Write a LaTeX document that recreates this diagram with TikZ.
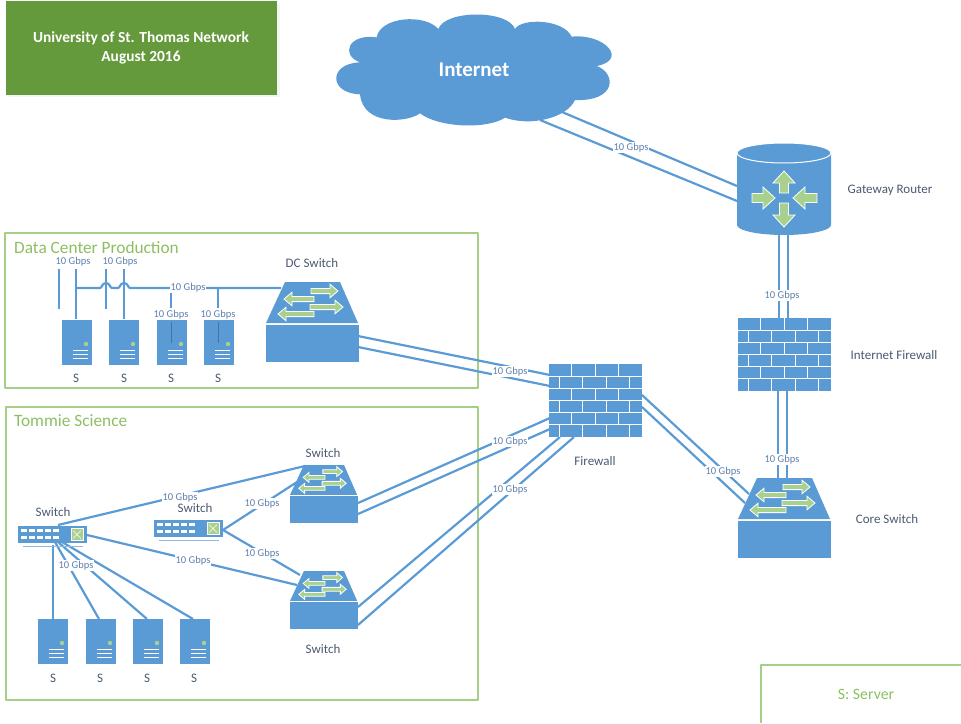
\documentclass[tikz,border=0pt]{standalone}
\usepackage{fontspec}
\setmainfont{Carlito}
\definecolor{netblue}{HTML}{5B9BD5}
\definecolor{leaf}{HTML}{A9D18E}
\definecolor{boxgreen}{HTML}{A5CF86}
\definecolor{titlegreen}{HTML}{8CBF62}
\definecolor{deepgreen}{HTML}{659A3C}
\definecolor{inkgray}{HTML}{4A5A70}
\definecolor{ratecol}{HTML}{5F7FAE}
\newcommand{\fatarrow}[3]{%
  \pgfmathsetmacro{\hb}{#3>#1?#3-8:#3+8}%
  \draw[white,line width=.8pt,fill=leaf,line join=miter]
    (#1,#2-2.6)--(\hb,#2-2.6)--(\hb,#2-6.8)--(#3,#2)--(\hb,#2+6.8)--(\hb,#2+2.6)--(#1,#2+2.6)--cycle;}
\newcommand{\fatarrowv}[3]{%
  \pgfmathsetmacro{\hb}{#3>#2?#3-12:#3+12}%
  \draw[white,line width=.8pt,fill=leaf,line join=miter]
    (#1-4.5,#2)--(#1-4.5,\hb)--(#1-11,\hb)--(#1,#3)--(#1+11,\hb)--(#1+4.5,\hb)--(#1+4.5,#2)--cycle;}
\newcommand{\fatarrowh}[3]{%
  \pgfmathsetmacro{\hb}{#3>#1?#3-12:#3+12}%
  \draw[white,line width=.8pt,fill=leaf,line join=miter]
    (#1,#2-4.5)--(\hb,#2-4.5)--(\hb,#2-11)--(#3,#2)--(\hb,#2+11)--(\hb,#2+4.5)--(#1,#2+4.5)--cycle;}
\tikzset{
  x=1pt,y=-1pt,
  link/.style={draw=netblue,line width=2.2pt},
  rate/.style={fill=white,inner sep=.8pt,yshift=-.6pt,text=ratecol,font=\fontsize{10.5}{11}\selectfont},
  caption/.style={inner sep=0pt,text=inkgray,font=\fontsize{13}{14}\selectfont},
  region/.style={draw=boxgreen,line width=1.5pt,line join=round},
  regiontitle/.style={inner sep=0pt,anchor=west,text=titlegreen,font=\fontsize{17.3}{18}\selectfont},
  bigswitch/.pic={
    \fill[netblue] (19,0)--(74,0)--(92,41)--(0,41)--cycle;
    \fill[netblue] (0,43)--(93,43)--(93,80)--(0,80)--cycle;
    \fatarrow{45}{9}{72}\fatarrow{48}{17}{18}\fatarrow{44}{25}{77}\fatarrow{48}{32}{12}
  },
  brickwall/.pic={
    \fill[netblue] (0,0) rectangle (93,73);
    \foreach \r in {1,...,5}{\draw[white,line width=.9pt] (0,\r*12.17)--(93,\r*12.17);}
    \foreach \r in {0,2,4}{\foreach \c in {22,46,69}{\draw[white,line width=.9pt] (\c,\r*12.17)--(\c,\r*12.17+12.17);}}
    \foreach \r in {1,3,5}{\foreach \c in {10,33,57,80}{\draw[white,line width=.9pt] (\c,\r*12.17)--(\c,\r*12.17+12.17);}}
  },
  serverbox/.pic={
    \fill[netblue] (0,0) rectangle (30,45);
    \fill[leaf] (24,24) circle (2.2);
    \foreach \v in {30,34,38}{\draw[white,line width=.8pt] (11,\v)--(26,\v);}
  },
  smallswitch/.pic={
    \fill[netblue] (0,0) rectangle (69,17);
    \foreach \c in {3,11,19,27,35}{\foreach \v in {3,10}{\fill[white] (\c,\v) rectangle ++(5.5,3);}}
    \draw[white,line width=.7pt,fill=leaf] (53,2.5) rectangle (65,14.5);
    \draw[white,line width=.5pt] (55,4.5)--(63,12.5) (55,12.5)--(63,4.5);
    \draw[netblue!70!white,line width=1.2pt] (5,20.5)--(65,20.5);
  },
}
\begin{document}
\begin{tikzpicture}
\useasboundingbox (0,0) rectangle (961,723);
% title
\fill[black!4!white] (8,4) rectangle (280,97);
\node[draw=none,fill=deepgreen,minimum width=271pt,minimum height=94pt,inner sep=0pt] (title) at (141,47.5) {};
\node[inner sep=0pt,text=white,align=center,font=\fontsize{15.4}{19}\selectfont\bfseries] (titletext) at (141,47.5) {University of St. Thomas Network\\August 2016};
% regions
\node[region,minimum width=473pt,minimum height=155pt,inner sep=0pt] (dcregion) at (241.5,310.5) {};
\node[region,minimum width=472pt,minimum height=293pt,inner sep=0pt] (sciregion) at (242,553.5) {};
\node[regiontitle] (dctitle) at (14,248) {Data Center Production};
\node[regiontitle] (scititle) at (14,421) {Tommie Science};
\coordinate (legA) at (761,723);\coordinate (legB) at (761,665);\coordinate (legC) at (961,665);
\draw[region] (legA)--(legB)--(legC);
\node[inner sep=0pt,text=titlegreen,font=\fontsize{15.8}{17}\selectfont] (legend) at (866,694) {S: Server};
% cloud
\begin{scope}[shift={(330,5)},scale=0.33333]
\fill[netblue] (325,72) .. controls (345,14) and (535,14) .. (555,72)
 .. controls (575,38) and (700,42) .. (725,95)
 .. controls (825,85) and (895,165) .. (800,183)
 .. controls (860,205) and (860,290) .. (735,285)
 .. controls (710,340) and (600,365) .. (525,338)
 .. controls (475,372) and (330,370) .. (270,325)
 .. controls (235,352) and (100,365) .. (90,268)
 .. controls (-5,265) and (-5,175) .. (90,172)
 .. controls (30,150) and (55,85) .. (140,97)
 .. controls (150,35) and (285,25) .. (325,72) -- cycle;
\end{scope}
\node[inner sep=0pt,text=white,font=\fontsize{21}{23}\selectfont\bfseries] (internet) at (474,70) {Internet};
% connector end points
\coordinate (cloudA) at (562,112);\coordinate (cloudB) at (540,120);
\coordinate (gwA) at (737,186);\coordinate (gwB) at (737,201);
\coordinate (gwC) at (779,232);\coordinate (gwD) at (788,232);
\coordinate (ifwA) at (779,318);\coordinate (ifwB) at (788,318);
\coordinate (ifwC) at (778,390);\coordinate (ifwD) at (787,390);
\coordinate (coreA) at (778,479);\coordinate (coreB) at (787,479);
\coordinate (fwA) at (642,395);\coordinate (fwB) at (642,407);
\coordinate (coreC) at (749,494);\coordinate (coreD) at (745,503);
\coordinate (dcsA) at (358,336);\coordinate (dcsB) at (358,347);
\coordinate (fwC) at (550,375);\coordinate (fwD) at (550,386);
\coordinate (swtA) at (358,503);\coordinate (swtB) at (358,514);
\coordinate (fwE) at (550,418);\coordinate (fwF) at (550,429);
\coordinate (swbA) at (358,607);\coordinate (swbB) at (358,625);
\coordinate (fwG) at (560,437);\coordinate (fwH) at (574,437);
\coordinate (lsA) at (58,525);\coordinate (swtC) at (305,466);
\coordinate (lsB) at (87,535);\coordinate (swbC) at (297,585);
\coordinate (rsA) at (223,530);\coordinate (swtD) at (297,482);\coordinate (swbD) at (300,575);
\coordinate (lsC) at (53,545);\coordinate (lsD) at (55,542);\coordinate (lsE) at (58,542);\coordinate (lsF) at (62,542);
\coordinate (tsA) at (53,619);\coordinate (tsB) at (99,619);\coordinate (tsC) at (147,619);\coordinate (tsD) at (193,619);
% connectors
\draw[link] (cloudA)--(gwA);\draw[link] (cloudB)--(gwB);
\draw[link] (gwC)--(ifwA);\draw[link] (gwD)--(ifwB);
\draw[link] (ifwC)--(coreA);\draw[link] (ifwD)--(coreB);
\draw[link] (fwA)--(coreC);\draw[link] (fwB)--(coreD);
\draw[link] (dcsA)--(fwC);\draw[link] (dcsB)--(fwD);
\draw[link] (swtA)--(fwE);\draw[link] (swtB)--(fwF);
\draw[link] (swbA)--(fwG);\draw[link] (swbB)--(fwH);
\draw[link] (lsA)--(swtC);\draw[link] (lsB)--(swbC);
\draw[link] (rsA)--(swtD);\draw[link] (rsA)--(swbD);
\draw[link] (lsC)--(tsA);\draw[link] (lsD)--(tsB);\draw[link] (lsE)--(tsC);\draw[link] (lsF)--(tsD);
% data-centre bus
\coordinate (busL) at (76,288);\coordinate (busR) at (281,288);
\coordinate (vA1) at (59,269);\coordinate (vA2) at (59,309);
\coordinate (vB1) at (76,269);\coordinate (vB2) at (76,319);
\coordinate (vC1) at (106,269);\coordinate (vC2) at (106,309);
\coordinate (vD1) at (124,269);\coordinate (vD2) at (124,319);
\coordinate (vE1) at (171,288);\coordinate (vE2) at (171,308);
\coordinate (vF1) at (218,288);\coordinate (vF2) at (218,308);
\draw[link] (vA1)--(vA2);\draw[link] (vB1)--(vB2);\draw[link] (vC1)--(vC2);\draw[link] (vD1)--(vD2);
\draw[link] (vE1)--(vE2);\draw[link] (vF1)--(vF2);
\draw[link] (busL)--(100,288) .. controls (102,288) and (102,283) .. (106,283) .. controls (110,283) and (110,288) .. (112,288)
 --(118,288) .. controls (120,288) and (120,283) .. (124,283) .. controls (128,283) and (128,288) .. (130,288)--(busR);
% icons
\fill[netblue] (737,153) -- (737,225) arc[start angle=180,end angle=0,x radius=47,y radius=10] -- (831,153) -- cycle;
\draw[white,line width=1pt,fill=netblue] (784,153) ellipse[x radius=47,y radius=10];
\fatarrowv{784}{193}{171}\fatarrowv{784}{203}{227}\fatarrowh{752}{198}{775}\fatarrowh{817}{198}{793}
\node[inner sep=0pt,minimum width=94pt,minimum height=92pt] (gateway) at (784,189) {};
\pic at (738,318) {brickwall};
\node[inner sep=0pt,minimum width=93pt,minimum height=73pt] (inetfw) at (784.5,354.5) {};
\pic at (549,364) {brickwall};
\node[inner sep=0pt,minimum width=93pt,minimum height=73pt] (firewall) at (595.5,400.5) {};
\pic at (738,478) {bigswitch};
\node[inner sep=0pt,minimum width=93pt,minimum height=80pt] (coreswitch) at (784.5,518) {};
\pic at (266,282) {bigswitch};
\node[inner sep=0pt,minimum width=93pt,minimum height=80pt] (dcswitch) at (312.5,322) {};
\pic[scale=.73] at (290,465) {bigswitch};
\node[inner sep=0pt,minimum width=68pt,minimum height=59pt] (swtop) at (324,494.5) {};
\pic[scale=.73] at (290,571) {bigswitch};
\node[inner sep=0pt,minimum width=68pt,minimum height=59pt] (swbot) at (324,600.5) {};
\pic at (18,526) {smallswitch};
\node[inner sep=0pt,minimum width=69pt,minimum height=17pt] (swleft) at (52.5,534.5) {};
\pic at (154,520) {smallswitch};
\node[inner sep=0pt,minimum width=69pt,minimum height=17pt] (swright) at (188.5,528.5) {};
\foreach \n/\px/\py in {a/62/320,b/109/320,c/157/320,d/204/320,e/38/619,f/86/619,g/133/619,h/180/619}{
  \pic at (\px,\py) {serverbox};
  \node[inner sep=0pt,minimum width=30pt,minimum height=45pt] (srv\n) at (\px+15,\py+22.5) {};
}
\draw[netblue!75!black,line width=.5pt] (171,322)--(171,343) (218,322)--(218,343);
% rate labels
\node[rate] (r1) at (631,147) {10 Gbps};
\node[rate] (r2) at (782,295) {10 Gbps};
\node[rate] (r3) at (782,459) {10 Gbps};
\node[rate] (r4) at (723,471) {10 Gbps};
\node[rate] (r5) at (510,371) {10 Gbps};
\node[rate] (r6) at (510,441) {10 Gbps};
\node[rate] (r7) at (510,489) {10 Gbps};
\node[rate] (r8) at (180,497) {10 Gbps};
\node[rate] (r9) at (193,560) {10 Gbps};
\node[rate] (r10) at (262,503) {10 Gbps};
\node[rate] (r11) at (262,553) {10 Gbps};
\node[rate] (r12) at (76,565) {10 Gbps};
\node[rate,fill=none] (r13) at (73,261) {10 Gbps};
\node[rate,fill=none] (r14) at (120,261) {10 Gbps};
\node[rate] (r15) at (188,287) {10 Gbps};
\node[rate,fill=none] (r16) at (171,314) {10 Gbps};
\node[rate,fill=none] (r17) at (218,314) {10 Gbps};
% captions
\node[caption] (c1) at (890,190) {Gateway Router};
\node[caption] (c2) at (894,355) {Internet Firewall};
\node[caption] (c3) at (595,461) {Firewall};
\node[caption] (c4) at (887,519) {Core Switch};
\node[caption] (c5) at (312,263) {DC Switch};
\node[caption] (c6) at (323,453) {Switch};
\node[caption] (c7) at (195,508) {Switch};
\node[caption] (c8) at (53,512) {Switch};
\node[caption] (c9) at (323,649) {Switch};
\foreach \n/\px/\py in {a/76/378,b/124/378,c/171/378,d/218/378,e/53/678,f/100/678,g/147/678,h/194/678}{
  \node[caption] (s\n) at (\px,\py) {S};
}
\end{tikzpicture}
\end{document}
